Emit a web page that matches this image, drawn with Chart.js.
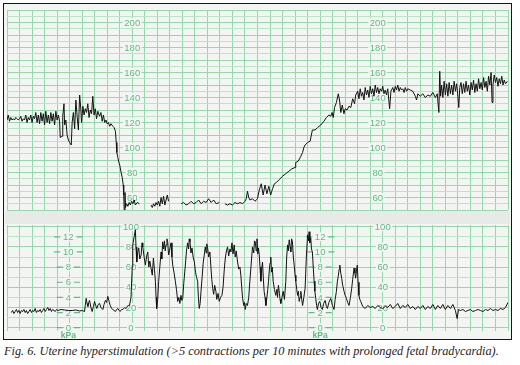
<!DOCTYPE html>
<html><head><meta charset="utf-8">
<script src="https://cdn.jsdelivr.net/npm/chart.js@4/dist/chart.umd.min.js"></script>
<style>
html,body{margin:0;padding:0;background:#fff;width:520px;height:365px;overflow:hidden;}
#frame{position:absolute;left:3px;top:3px;width:509px;height:337px;box-sizing:border-box;border:1.5px solid #161616;background:#f3f5f2;}
#band{position:absolute;left:5px;top:211px;width:505px;height:13px;background:#e8eae8;}
canvas{position:absolute;}
#cap{position:absolute;left:4px;top:344px;font:italic 12.3px "Liberation Serif",serif;color:#2a2220;white-space:nowrap;}
</style></head><body>
<div id="frame"></div><div id="band"></div>
<canvas id="fhr" width="505" height="203" style="left:6px;top:8px"></canvas>
<canvas id="ua" width="505" height="116" style="left:6px;top:224px"></canvas>
<div id="cap">Fig. 6. Uterine hyperstimulation (&gt;5 contractions per 10 minutes with prolonged fetal bradycardia).</div>
<script>
// ---- data (time in minutes) ----
const fhrTime = [
 0.0,0.1,0.2,0.3,0.4,0.5,0.6,0.7,0.8,0.9,1.0,1.1,1.2,1.3,1.4,1.5,1.6,1.7,1.8,1.9,2.0,2.1,2.2,2.3,2.4,2.5,2.6,2.7,2.8,2.9,3.0,3.1,3.2,3.3,3.4,3.5,3.6,3.7,3.8,3.9,4.0,4.1,
 4.2,4.25,4.4,4.45,4.55,4.6,4.7,4.8,4.9,5.0,5.13,5.2,5.3,5.4,5.5,5.6,5.7,5.8,5.9,5.95,6.06,6.15,6.25,6.35,6.45,6.55,6.65,6.75,6.85,6.95,7.05,7.15,7.25,7.39,7.5,7.6,7.7,7.8,7.9,8.0,8.1,8.2,8.3,8.45,
 8.55,8.66,8.72,8.77,8.85,8.93,9.0,9.11,9.2,9.28,9.32,9.36,9.42,9.46,9.55,9.65,9.75,9.85,9.95,10.05,10.15,10.25,10.4,10.57,10.6,
 11.5,11.6,11.7,11.8,11.9,12.0,12.1,12.2,12.3,12.4,12.5,12.6,12.7,12.8,12.9,13.0,
 13.9,14.1,14.3,14.5,14.7,14.9,15.1,15.3,15.5,15.7,15.9,16.1,16.3,16.5,16.7,16.95,17.1,
 17.4,17.6,17.8,18.0,18.2,18.4,18.6,18.8,19.0,19.1,19.2,19.3,19.4,19.6,19.8,20.0,20.14,20.3,20.45,20.6,20.75,20.9,21.05,21.2,21.35,21.5,21.7,22.0,22.25,22.5,22.75,23.0,23.05,23.25,23.46,23.6,23.7,23.8,24.0,24.2,24.3,24.38,24.6,24.8,25.05,25.3,25.5,25.7,25.85,25.95,26.05,26.15,26.3,26.45,26.55,26.65,26.77,26.9,27.0,27.15,27.3,27.45,27.6,27.75,27.84,
 28.0,28.1,28.2,28.3,28.4,28.5,28.6,28.7,28.8,28.9,29.0,29.1,29.2,29.3,29.4,29.5,29.6,29.7,29.8,29.9,30.0,30.1,30.2,30.3,30.4,30.55,30.65,30.8,30.9,31.0,31.1,31.2,31.3,31.4,31.5,31.6,31.7,31.8,31.9,32.0,32.2,32.4,32.6,32.7,32.8,33.0,33.2,33.4,33.6,33.8,34.0,34.2,34.35,34.48,34.55,34.62,34.7,34.8,34.9,35.0,35.1,35.2,35.3,35.4,35.5,35.6,35.7,35.8,35.9,36.0,36.07,36.15,36.25,36.35,36.45,36.55,36.65,36.75,36.85,36.95,37.05,37.15,37.25,37.35,37.45,37.55,37.65,37.75,37.85,37.95,38.05,38.15,38.25,38.35,38.45,38.55,38.65,38.73,38.8,38.9,39.0,39.1,39.2,39.3,39.4,39.5,39.6,39.7,39.8,39.95
];
const fhrBpm = [
 122,126,121,124,122,123,122,124,123,122,123,125,121,123,122,126,120,124,122,126,120,125,123,128,120,126,119,128,121,127,118,129,120,126,119,128,121,127,118,129,122,126,
 121,108,109,125,135,118,122,110,106,104,102,120,128,115,138,125,114,142,130,120,133,126,131,128,135,124,130,127,141,126,131,123,129,125,128,121,126,120,122,119,120,117,119,117,
 116,113,104,96,92,88,86,80,76,70,62,50,64,52,55,53,56,54,57,55,58,54,56,55,null,
 54,52,55,53,56,54,57,53,60,55,61,54,58,62,57,null,
 55,56,54,55,57,55,56,58,55,57,56,59,56,58,55,56,null,
 55,54,55,54,56,55,56,55,57,59,65,60,58,59,57,59,66,71,62,70,63,69,62,67,71,72,74,77,79,81,83,84,88,89,93,96,100,102,104,105,110,114,114,116,118,121,124,126,125,128,124,132,136,143,138,128,134,127,131,130,133,132,139,135,142,
 145,139,147,141,144,138,148,142,146,140,149,143,147,141,150,144,148,143,147,145,149,143,146,142,147,131,145,148,144,149,146,150,145,148,146,147,144,148,145,147,146,145,141,138,143,141,143,140,142,141,144,140,143,128,161,141,150,140,153,142,151,141,152,143,150,142,153,145,151,141,132,148,152,143,151,144,153,145,150,142,152,146,154,144,151,145,155,147,152,146,156,148,153,145,157,150,160,136,150,158,152,156,149,155,151,157,150,154,151,153
];
const uaTime = [
 0.35,0.45,0.55,0.65,0.75,0.85,0.95,1.05,1.15,1.25,1.35,1.45,1.55,1.65,1.75,1.85,1.95,2.05,2.15,2.25,2.35,2.45,2.55,2.65,2.75,2.85,2.95,3.05,3.15,3.25,3.35,3.45,3.55,3.65,3.75,3.85,3.95,4.07,
 4.3,4.6,4.9,5.2,5.5,5.8,6.0,
 6.19,6.25,6.32,6.39,6.46,6.52,6.59,6.7,6.8,6.9,6.99,7.08,7.17,7.28,7.39,7.5,7.65,7.75,7.86,7.95,8.05,8.15,8.24,8.35,8.45,8.55,8.66,8.75,8.85,8.95,9.03,9.15,9.25,9.4,9.51,9.62,9.72,
 9.78,9.9,10.0,10.04,10.15,10.25,10.3,10.36,10.44,10.52,
 10.6,10.71,10.78,10.84,10.95,11.05,11.15,11.24,11.32,11.4,
 11.5,11.6,11.69,11.77,11.85,11.9,11.95,12.03,12.11,12.2,
 12.3,12.36,12.43,12.5,12.57,12.63,12.7,12.77,12.83,12.9,
 12.96,13.03,13.1,13.17,13.23,13.33,13.44,13.53,13.63,13.72,
 13.8,13.89,13.96,14.03,14.12,14.24,14.33,14.42,14.5,14.55,
 14.61,14.69,14.77,14.86,14.96,15.05,15.13,15.22,15.28,15.35,
 15.42,15.49,15.58,15.67,15.75,15.83,15.9,15.95,16.02,16.1,
 16.2,16.28,16.35,16.42,16.5,16.58,16.68,16.75,16.85,16.95,
 17.05,17.16,17.25,17.35,17.43,17.52,17.61,17.7,17.8,17.88,
 17.96,18.05,18.14,18.22,18.3,18.41,18.5,18.6,18.67,18.74,
 18.81,18.9,18.96,19.02,19.1,19.2,19.3,19.39,19.5,19.6,
 19.7,19.76,19.82,19.9,19.96,20.02,20.08,
 20.14,20.2,20.27,20.33,20.4,20.46,20.53,20.6,20.67,20.75,
 20.82,20.88,20.95,21.0,21.06,21.12,21.18,21.25,21.35,21.46,
 21.55,21.6,21.67,21.75,21.8,21.86,21.95,22.05,22.15,22.26,
 22.33,22.4,22.46,22.53,22.6,22.66,22.72,22.79,22.86,22.93,
 23.0,23.06,23.13,23.2,23.26,23.33,23.4,23.46,23.53,23.6,
 23.7,23.8,23.9,24.0,24.06,24.12,24.18,24.25,24.31,24.38,
 24.45,24.52,24.58,24.65,24.72,24.78,24.87,24.97,25.08,25.18,
 25.28,25.4,25.5,25.58,25.7,25.85,25.98,26.11,26.2,26.3,
 26.38,26.46,26.52,26.57,26.65,26.72,26.8,26.91,27.0,27.1,
 27.2,27.31,27.42,27.52,27.6,27.71,27.78,27.84,27.9,27.97,
 28.03,28.1,28.17,28.24,
 28.4,28.6,28.8,29.0,29.2,29.4,29.6,29.8,30.0,30.2,30.4,30.6,30.8,31.0,31.2,31.4,31.6,31.8,32.0,32.2,32.4,32.6,32.8,33.0,33.2,33.4,33.6,33.8,34.0,34.2,34.4,34.6,34.8,35.0,35.2,35.4,35.6,35.8,35.94,36.05,36.2,36.4,36.6,36.8,37.0,37.2,37.4,37.6,37.8,38.0,38.2,38.4,38.6,38.8,39.0,39.2,39.4,39.6,39.8,40.0
];
const uaMmHg = [
 15,17,14,16,18,15,17,14,17,16,18,15,17,14,16,18,15,17,16,19,15,17,16,18,15,17,19,16,18,20,17,19,16,18,17,16,18,17,
 18,17.5,17,17,17.5,16.5,17,
 16,22,29,24,21,25,27,20,16,21,26,22,19,23,24,20,18,23,27,25,31,26,22,19,18,17,16,18,19,17,16,18,18,20,19,21,22,
 22,30,60,82,90,97,80,65,75,79,
 68,72,84,80,70,62,71,75,60,66,
 59,52,69,58,46,30,19,28,46,60,
 75,68,85,78,86,76,82,88,85,72,
 75,80,84,70,62,55,46,38,26,30,
 24,32,27,29,45,62,76,84,78,88,
 85,74,79,70,65,55,50,46,30,19,
 24,36,50,65,72,80,74,83,79,70,
 75,60,48,39,33,42,36,28,34,26,
 30,32,40,58,69,76,80,71,78,75,
 84,73,82,70,76,65,58,60,52,40,
 29,22,25,18,24,22,30,46,64,80,
 74,86,85,76,88,73,79,
 72,60,46,58,65,50,36,30,22,30,
 38,46,58,64,70,55,60,46,38,32,
 38,30,42,34,28,24,30,36,28,46,
 70,82,76,87,80,75,88,85,70,62,
 52,46,38,32,36,26,30,36,28,22,
 30,39,70,92,86,95,84,89,78,75,
 60,46,36,29,22,18,24,26,20,18,
 24,27,21,19,25,29,22,18,28,36,
 46,52,58,62,54,49,42,36,32,29,
 25,22,30,39,48,59,54,49,56,62,
 45,32,28,26,
 21,19,22,20,21,19,22,20,19,21,20,23,19,21,24,19,22,20,23,19,21,18,21,19,22,18,21,19,23,18,22,19,23,18,22,19,23,17,9,18,17,18,16,17,18,16,17,18,17,16,18,17,19,17,18,17,19,18,20,25
];
const fhrTickLabels = [60, 80, 100, 120, 140, 160, 180, 200];
const uaTickLabels = [0, 20, 40, 60, 80, 100];
const kpaTickLabels = [0, 2, 4, 6, 8, 10, 12];
const MMHG_PER_KPA = 7.5;

// ---- styles ----
const GRID = '#94d8ab', GRID_LIGHT = '#bbe5c8', LABEL = '#5dbd80', PAPER = '#f3f5f2', TRACE = '#121212';

function points(t, v) { return t.map((x, i) => ({ x: x, y: v[i] })); }

const scaleLabels = {
  id: 'scaleLabels',
  beforeDatasetsDraw(chart, args, opts) {
    const ctx = chart.ctx, xs = chart.scales.x, ys = chart.scales.y;
    ctx.save();
    ctx.font = '9.5px "Liberation Sans", Arial, sans-serif';
    ctx.textAlign = 'center';
    ctx.textBaseline = 'middle';
    for (const col of opts.columns) {
      const cx = xs.getPixelForValue(col.at);
      for (const v of col.ticks) {
        const cy = ys.getPixelForValue(v * (col.factor || 1));
        const txt = String(v);
        const w = ctx.measureText(txt).width;
        if (col.marks) {
          ctx.strokeStyle = LABEL; ctx.lineWidth = 1.2;
          ctx.beginPath();
          ctx.moveTo(cx - w / 2 - 9, cy); ctx.lineTo(cx - w / 2 - 3, cy);
          ctx.moveTo(cx + w / 2 + 3, cy); ctx.lineTo(cx + w / 2 + 9, cy);
          ctx.stroke();
        }
        ctx.fillStyle = PAPER;
        ctx.fillRect(cx - w / 2 - 1.5, cy - 4.5, w + 3, 9);
        ctx.fillStyle = LABEL;
        ctx.fillText(txt, cx, cy + 0.5);
      }
      if (col.unit) {
        const cy = ys.getPixelForValue(0) + 8;
        ctx.font = 'bold 8.5px "Liberation Sans", Arial, sans-serif';
        ctx.fillText(col.unit, cx, cy);
        ctx.font = '9.5px "Liberation Sans", Arial, sans-serif';
      }
    }
    ctx.restore();
  }
};

function makeChart(id, data, yMin, yMax, yStep, pad, columns) {
  return new Chart(document.getElementById(id), {
    type: 'line',
    data: { datasets: [{ data: data, borderColor: TRACE, borderWidth: 1, pointRadius: 0, tension: 0, spanGaps: false, fill: false }] },
    options: {
      responsive: false, animation: false, devicePixelRatio: 1,
      layout: { padding: pad },
      plugins: { legend: { display: false }, tooltip: { enabled: false }, scaleLabels: { columns: columns } },
      scales: {
        x: { type: 'linear', min: 0, max: 40,
             ticks: { display: false, stepSize: 1, maxTicksLimit: 200, autoSkip: false },
             grid: { color: GRID, lineWidth: 1, drawTicks: false }, border: { display: false } },
        y: { type: 'linear', min: yMin, max: yMax,
             ticks: { display: false, stepSize: yStep, maxTicksLimit: 200, autoSkip: false, includeBounds: false },
             grid: { color: c => (c.tick && c.tick.value % (yStep * 2) === 0) ? GRID : GRID_LIGHT, lineWidth: 1, drawTicks: false },
             border: { display: false } }
      }
    },
    plugins: [scaleLabels]
  });
}

makeChart('fhr', points(fhrTime, fhrBpm), 50, 210, 5, { left: 1, right: 3, top: 2, bottom: 1 }, [
  { at: 10.0, ticks: fhrTickLabels },
  { at: 29.6, ticks: fhrTickLabels }
]);
makeChart('ua', points(uaTime, uaMmHg), -3.3, 101.7, 10, { left: 1, right: 3, top: 1, bottom: 9 }, [
  { at: 4.9, ticks: kpaTickLabels, factor: MMHG_PER_KPA, marks: true, unit: 'kPa' },
  { at: 9.9, ticks: uaTickLabels },
  { at: 25.0, ticks: kpaTickLabels, factor: MMHG_PER_KPA, marks: true, unit: 'kPa' },
  { at: 30.0, ticks: uaTickLabels }
]);
</script>
</body></html>
